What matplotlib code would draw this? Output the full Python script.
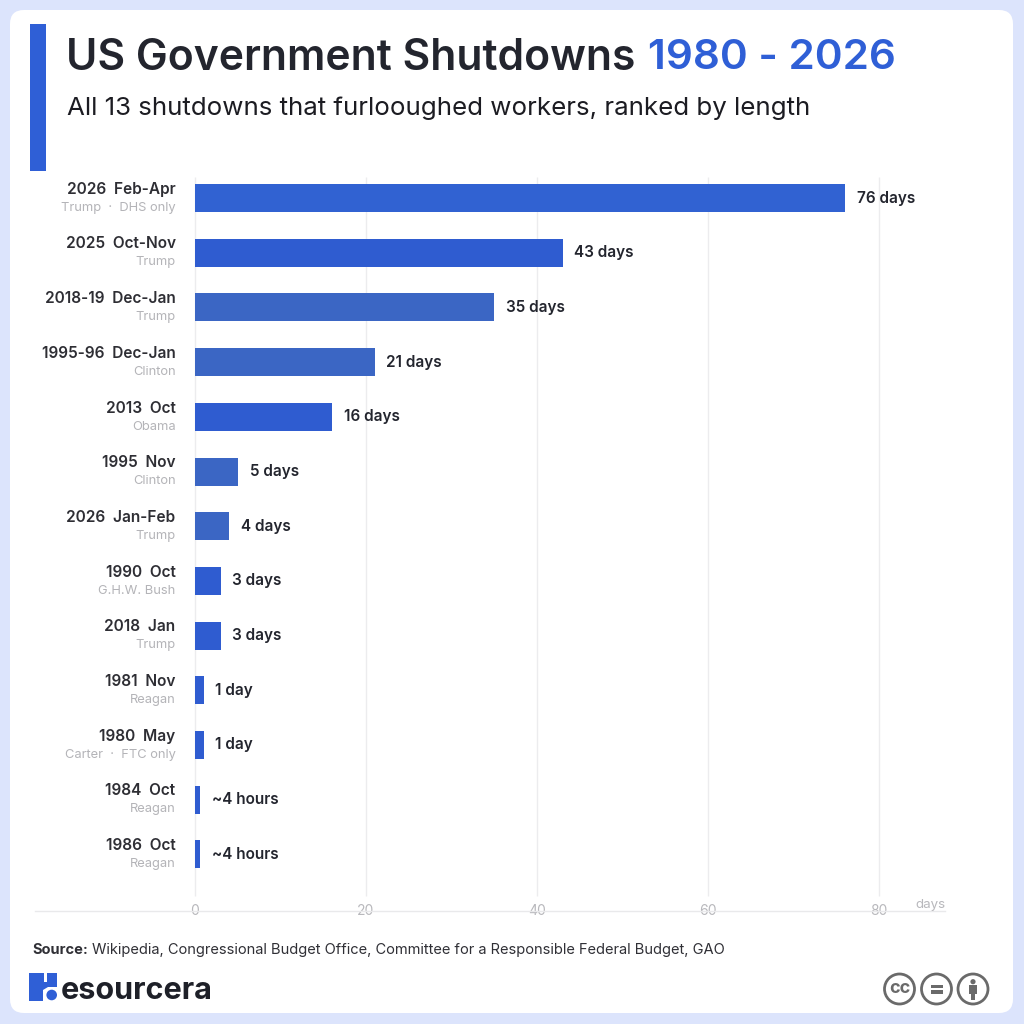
import matplotlib.pyplot as plt
from matplotlib.patches import Circle, FancyBboxPatch, Polygon, Rectangle

plt.rcParams["font.family"] = ["Inter", "DejaVu Sans"]

PERIODS = ["2026  Feb-Apr", "2025  Oct-Nov", "2018-19  Dec-Jan", "1995-96  Dec-Jan", "2013  Oct",
           "1995  Nov", "2026  Jan-Feb", "1990  Oct", "2018  Jan", "1981  Nov", "1980  May",
           "1984  Oct", "1986  Oct"]
DETAILS = ["Trump  ·  DHS only", "Trump", "Trump", "Clinton", "Obama", "Clinton", "Trump",
           "G.H.W. Bush", "Trump", "Reagan", "Carter  ·  FTC only", "Reagan", "Reagan"]
# the ~4 hour bars are drawn wider than their true value in the original
BAR_DAYS = [76, 43, 35, 21, 16, 5, 4, 3, 3, 1, 1, 0.6, 0.6]
VALUE_LABELS = ["76 days", "43 days", "35 days", "21 days", "16 days", "5 days", "4 days",
                "3 days", "3 days", "1 day", "1 day", "~4 hours", "~4 hours"]
BAR_COLORS = ["#3162D2", "#2F5CD0", "#3B66C4", "#3B66C4", "#2F5CD0", "#3B66C4", "#3B66C4",
              "#2F5CD0", "#2F5CD0", "#2F5CD0", "#2F5CD0", "#2F5CD0", "#2F5CD0"]
X_TICKS = [0, 20, 40, 60, 80]

DARK = "#23252E"
GREY = "#B4B4B8"
BLUE = "#2F5FD6"
BADGE = "#6A6A6A"

fig = plt.figure(figsize=(10.24, 10.24), dpi=100, facecolor="#DCE4FC")

# page layer in pixel coordinates, y pointing down
bg = fig.add_axes([0, 0, 1, 1])
bg.set_xlim(0, 1024)
bg.set_ylim(1024, 0)
bg.axis("off")
bg.add_patch(FancyBboxPatch((10, 10), 1003, 1003, boxstyle="round,pad=0,rounding_size=14",
                            fc="white", ec="none"))
bg.add_patch(Rectangle((30, 24), 15.5, 147, fc=BLUE, ec="none"))

bg.text(66, 58, "US Government Shutdowns", fontsize=30.7, fontweight="semibold", color=DARK, va="center")
bg.text(648, 58, "1980 - 2026", fontsize=30.4, fontweight="semibold", color=BLUE, va="center")
bg.text(67, 108, "All 13 shutdowns that furlooughed workers, ranked by length", fontsize=18.65,
        color="#1C1C22", va="center")

bg.text(32, 950, "Source:", fontsize=10.5, fontweight="bold", color="#303036", va="center")
bg.text(92, 950, "Wikipedia, Congressional Budget Office, Committee for a Responsible Federal Budget, GAO",
        fontsize=10.55, color="#303036", va="center")

# logo
bg.add_patch(Rectangle((29, 973), 28, 28, fc=BLUE, ec="none"))
bg.add_patch(Rectangle((43.5, 973), 3, 9, fc="white", ec="none"))
bg.add_patch(Polygon([(43, 1002), (43, 990), (48, 987), (58, 987), (58, 1002)], fc="white", ec="none"))
bg.add_patch(Circle((51.7, 995), 5.3, fc=BLUE, ec="none"))
bg.text(61, 991, "esourcera", fontsize=22, fontweight="bold", color="#1E2028", va="center")

# licence badges
for cx in (899.5, 936.5, 973):
    bg.add_patch(Circle((cx, 989), 15, fc="white", ec=BADGE, lw=2))
bg.text(899.5, 988.5, "cc", fontsize=13, fontweight="bold", color=BADGE, ha="center", va="center")
bg.add_patch(Rectangle((930.5, 985), 12, 3.3, fc=BADGE, ec="none"))
bg.add_patch(Rectangle((930.5, 990.4), 12, 3.3, fc=BADGE, ec="none"))
bg.add_patch(Circle((973, 981.7), 2.6, fc=BADGE, ec="none"))
bg.add_patch(Rectangle((969.3, 984.5), 7.4, 9, fc=BADGE, ec="none"))
bg.add_patch(Rectangle((970.7, 993), 4.6, 7, fc=BADGE, ec="none"))

# chart: 0 at x=195, 80 at x=879, rows 54.7 px apart starting at y=198
PX_PER_DAY = 684 / 80
ROW = 54.7
ax = fig.add_axes([35 / 1024, 1 - 911 / 1024, 910 / 1024, (911 - 170) / 1024], facecolor="none")
ax.set_xlim(-160 / PX_PER_DAY, 750 / PX_PER_DAY)
ax.set_ylim((911 - 198) / ROW, -(198 - 170) / ROW)
for side in ("top", "left", "right"):
    ax.spines[side].set_visible(False)
ax.spines["bottom"].set_color("#E9E9EB")
ax.spines["bottom"].set_linewidth(1)
ax.set_yticks([])
ax.set_xticks(X_TICKS)
ax.tick_params(axis="x", length=0, labelsize=10, labelcolor="#B8B8BC", pad=0)
for lab in ax.get_xticklabels():
    lab.set_bbox(dict(fc="white", ec="none", pad=1))
    lab.set_va("center")

rows = list(range(len(BAR_DAYS)))
ax.vlines(X_TICKS, -0.38, (896 - 198) / ROW, color="#ECECEE", lw=1, zorder=1)
ax.barh(rows, BAR_DAYS, height=28 / ROW, color=BAR_COLORS, zorder=2)

for i in rows:
    ax.annotate(VALUE_LABELS[i], (BAR_DAYS[i], i), xytext=(8.5, 0), textcoords="offset points",
                fontsize=11, fontweight="semibold", color=DARK, va="center", zorder=3)
    ax.annotate(PERIODS[i], (0, i), xytext=(-14, 6.3), textcoords="offset points", ha="right",
                fontsize=11.1, fontweight="semibold", color="#2E2E34", va="center")
    ax.annotate(DETAILS[i], (0, i), xytext=(-14, -7), textcoords="offset points", ha="right",
                fontsize=9.3, color=GREY, va="center")

ax.annotate("days", (1, 0), xycoords="axes fraction", xytext=(0, 0), textcoords="offset points",
            ha="right", fontsize=9.6, color="#B8B8BC", va="bottom")

fig.savefig("out.png", dpi=100, facecolor=fig.get_facecolor())
